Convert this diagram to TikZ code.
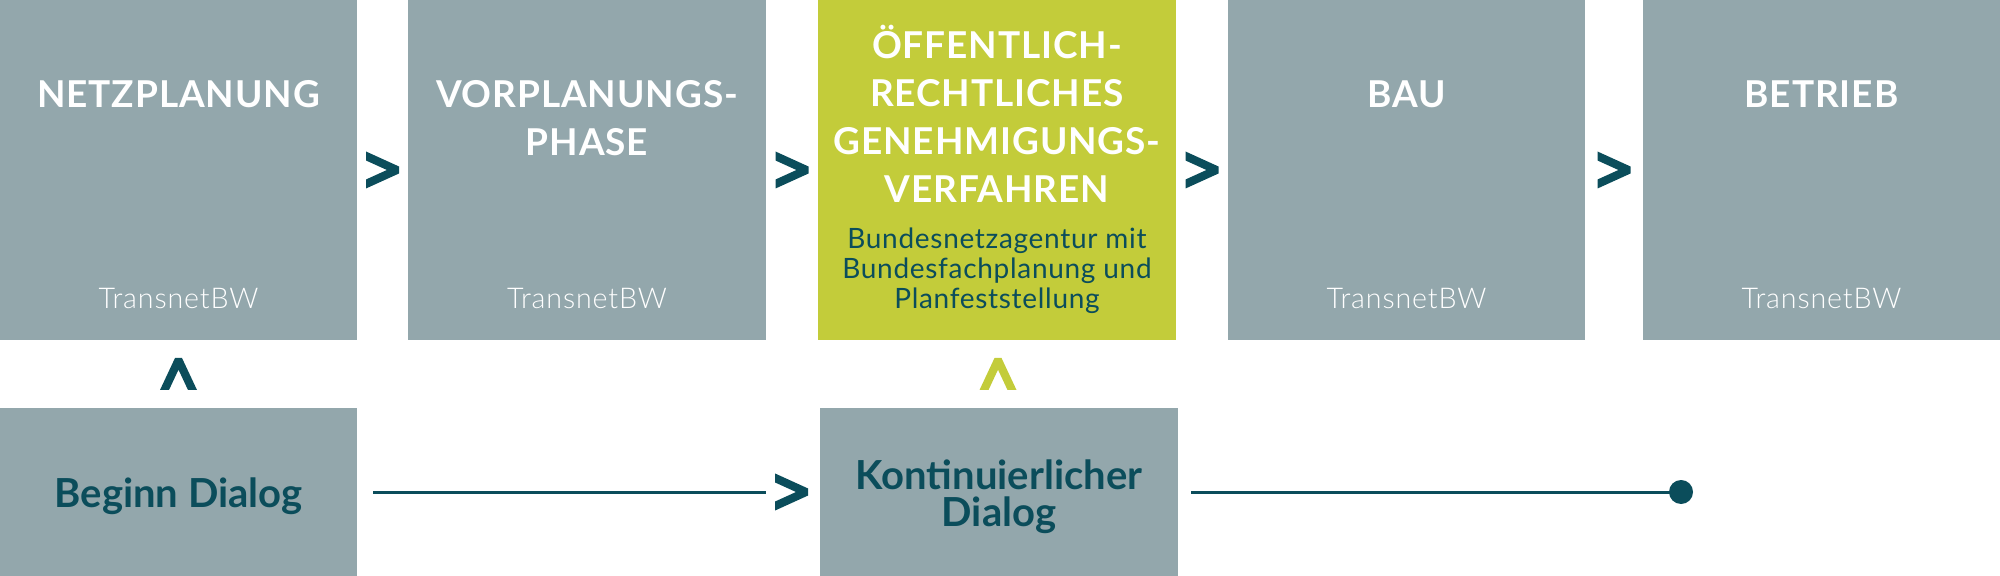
\documentclass[tikz,border=0pt]{standalone}
\usepackage{fontspec}
\setmainfont{Lato}
\newfontfamily\titlefam{Lato}[LetterSpace=2.5]
\newfontfamily\descfam{Lato}[LetterSpace=2.5]
\IfFontExistsTF{Lato Light}{\newfontfamily\subfam{Lato Light}[LetterSpace=3.0]}{\newfontfamily\subfam{Lato}[LetterSpace=3.0]}
\usetikzlibrary{calc}
\definecolor{boxgray}{HTML}{93A7AC}
\definecolor{boxgreen}{HTML}{C3CC3A}
\definecolor{darkteal}{HTML}{0B4D5B}
\tikzset{
  stepbox/.style={draw=none, fill=boxgray, inner sep=0pt, minimum width=178.5pt, minimum height=170pt},
  lowbox/.style={draw=none, fill=boxgray, inner sep=0pt, minimum width=178.5pt, minimum height=84pt},
  ttl/.style={anchor=north, align=center, inner sep=0pt, text=white, font=\titlefam\bfseries\fontsize{18.5}{24}\selectfont},
  org/.style={anchor=base, inner sep=0pt, text=white, font=\subfam\fontsize{14.3}{15}\selectfont},
  orgdark/.style={anchor=north, align=center, inner sep=0pt, text=darkteal, font=\descfam\fontsize{14}{15}\selectfont},
  dlg/.style={anchor=north, align=center, inner sep=0pt, text=darkteal, font=\bfseries\fontsize{20}{18.5}\selectfont},
  conn/.style={draw=darkteal, line width=1.5pt},
  chevR/.pic={\fill[pic actions] (-16.5,-18.5) -- (16.5,-3.5) -- (16.5,3.5) -- (-16.5,18.5) -- (-16.5,9.5) -- (4.4,0) -- (-16.5,-9.5) -- cycle;},
  chevU/.pic={\fill[pic actions] (-18.5,16) -- (-3.5,-16) -- (3.5,-16) -- (18.5,16) -- (9.5,16) -- (0,-4.3) -- (-9.5,16) -- cycle;},
}
\begin{document}
\begin{tikzpicture}[x=0.5pt, y=-0.5pt]
\useasboundingbox (0,0) rectangle (2000,576);
% top row
\node[stepbox] (n1) at (178.5,170) {};
\node[stepbox, minimum width=179pt] (n2) at (587,170) {};
\node[stepbox, fill=boxgreen, minimum width=179pt] (n3) at (997,170) {};
\node[stepbox] (n4) at (1406.5,170) {};
\node[stepbox] (n5) at (1821.5,170) {};
% bottom row
\node[lowbox] (beg) at (178.5,492) {};
\node[lowbox, minimum width=179pt] (kont) at (999,492) {};
% titles
\node[ttl] (t1) at (178.5,67) {\rule{0pt}{20pt}NETZPLANUNG};
\node[ttl] (t2) at (587,67) {\rule{0pt}{20pt}VORPLANUNGS-\\PHASE};
\node[ttl] (t3) at (997,18) {\rule{0pt}{20pt}ÖFFENTLICH-\\RECHTLICHES\\GENEHMIGUNGS-\\VERFAHREN};
\node[ttl] (t4) at (1406.5,67) {\rule{0pt}{20pt}BAU};
\node[ttl] (t5) at (1821.5,67) {\rule{0pt}{20pt}BETRIEB};
% organisations
\node[org] (o1) at (178.5,309) {TransnetBW};
\node[org] (o2) at (587,309) {TransnetBW};
\node[orgdark] (o3) at (997,208) {\rule{0pt}{20pt}Bundesnetzagentur mit\\Bundesfachplanung und\\Planfeststellung};
\node[org] (o4) at (1406.5,309) {TransnetBW};
\node[org] (o5) at (1821.5,309) {TransnetBW};
% dialog texts
\node[dlg] (d1) at (178.5,467) {\rule{0pt}{20pt}Beginn Dialog};
\node[dlg] (d2) at (999,449) {\rule{0pt}{20pt}Kontinuierlicher\\Dialog};
% chevrons between steps
\pic[fill=darkteal] at ($(n1.east)!0.5!(n2.west)$) {chevR};
\pic[fill=darkteal] at ($(n2.east)!0.5!(n3.west)$) {chevR};
\pic[fill=darkteal] at ($(n3.east)!0.5!(n4.west)$) {chevR};
\pic[fill=darkteal] at ($(n4.east)!0.5!(n5.west)$) {chevR};
% carets from dialog to steps
\pic[fill=darkteal] at ($(n1.south)!0.5!(beg.north)$) {chevU};
\pic[fill=boxgreen] at ($(n3.south)!0.5!(kont.north)$) {chevU};
% dialog line
\draw[conn] ([xshift=8pt]beg.east) -- ([xshift=-27pt]kont.west);
\pic[fill=darkteal] at ([xshift=-14pt]kont.west) {chevR};
\node[circle, fill=darkteal, inner sep=0pt, minimum size=12pt] (dot) at (1681,492) {};
\draw[conn] ([xshift=6.5pt]kont.east) -- (dot.center);
\end{tikzpicture}
\end{document}
